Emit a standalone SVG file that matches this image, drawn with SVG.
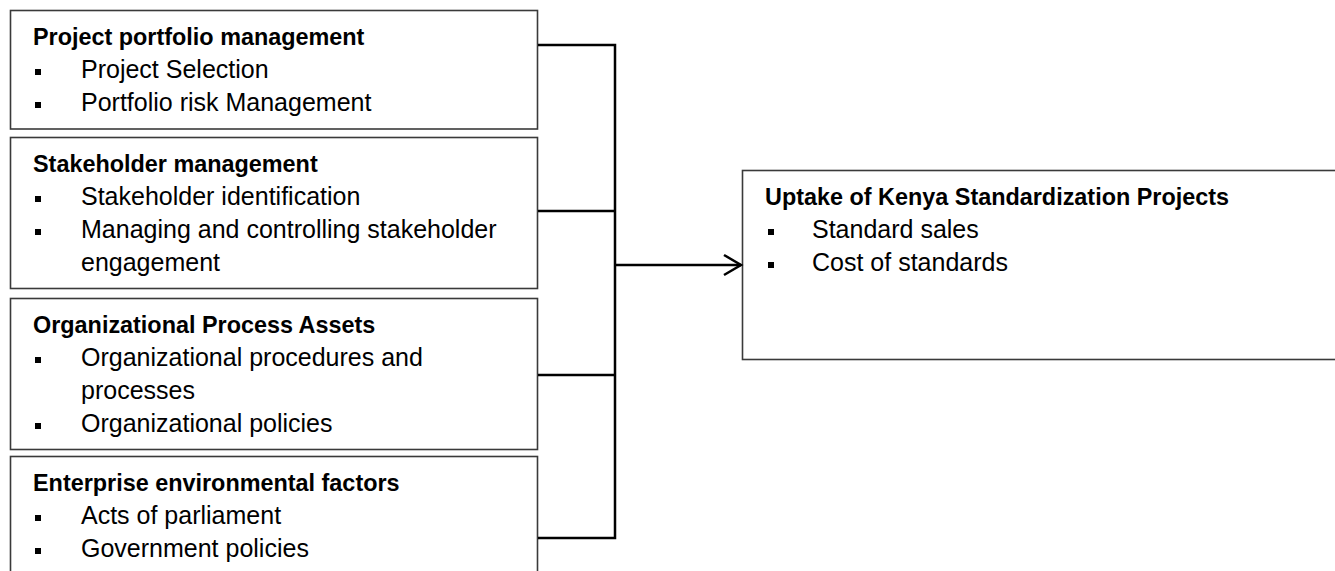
<svg xmlns="http://www.w3.org/2000/svg" width="1335" height="571" viewBox="0 0 1335 571">
<style>
.box{fill:#fff;stroke:#3a3a3a;stroke-width:1.6}
.t{font-family:"Liberation Sans",Arial,sans-serif;font-size:23.4px;font-weight:bold;fill:#000}
.i{font-family:"Liberation Sans",Arial,sans-serif;font-size:25px;fill:#000}
.b{fill:#000}
.c{fill:none;stroke:#000;stroke-width:2.5}
</style>
<rect x="0" y="0" width="1335" height="571" fill="#fff"/>
<g id="n1">
<rect class="box" x="10.5" y="10.5" width="527" height="118.5"/>
<text class="t" x="33" y="45">Project portfolio management</text>
<rect class="b" x="35" y="69" width="6" height="6"/><text class="i" x="81" y="78">Project Selection</text>
<rect class="b" x="35" y="102" width="6" height="6"/><text class="i" x="81" y="111">Portfolio risk Management</text>
</g>
<g id="n2">
<rect class="box" x="10.5" y="137.5" width="527" height="151"/>
<text class="t" x="33" y="172">Stakeholder management</text>
<rect class="b" x="35" y="196" width="6" height="6"/><text class="i" x="81" y="205">Stakeholder identification</text>
<rect class="b" x="35" y="229" width="6" height="6"/><text class="i" x="81" y="238">Managing and controlling stakeholder</text>
<text class="i" x="81" y="271">engagement</text>
</g>
<g id="n3">
<rect class="box" x="10.5" y="298.5" width="527" height="151"/>
<text class="t" x="33" y="333">Organizational Process Assets</text>
<rect class="b" x="35" y="357" width="6" height="6"/><text class="i" x="81" y="366">Organizational procedures and</text>
<text class="i" x="81" y="399">processes</text>
<rect class="b" x="35" y="423" width="6" height="6"/><text class="i" x="81" y="432">Organizational policies</text>
</g>
<g id="n4">
<rect class="box" x="10.5" y="456.5" width="527" height="130"/>
<text class="t" x="33" y="491">Enterprise environmental factors</text>
<rect class="b" x="35" y="515" width="6" height="6"/><text class="i" x="81" y="524">Acts of parliament</text>
<rect class="b" x="35" y="548" width="6" height="6"/><text class="i" x="81" y="557">Government policies</text>
</g>
<g id="n5">
<rect class="box" x="742.5" y="170.5" width="600" height="189"/>
<text class="t" x="765" y="205">Uptake of Kenya Standardization Projects</text>
<rect class="b" x="768" y="229" width="6" height="6"/><text class="i" x="812" y="238">Standard sales</text>
<rect class="b" x="768" y="262" width="6" height="6"/><text class="i" x="812" y="271">Cost of standards</text>
</g>
<g id="connectors">
<path class="c" d="M538 45H615M538 211H615M538 375H615M538 538H615M615 43.75V539.25"/>
<path class="c" d="M615 265H741"/>
<path class="c" d="M724 255L741 265L724 275"/>
</g>
</svg>
